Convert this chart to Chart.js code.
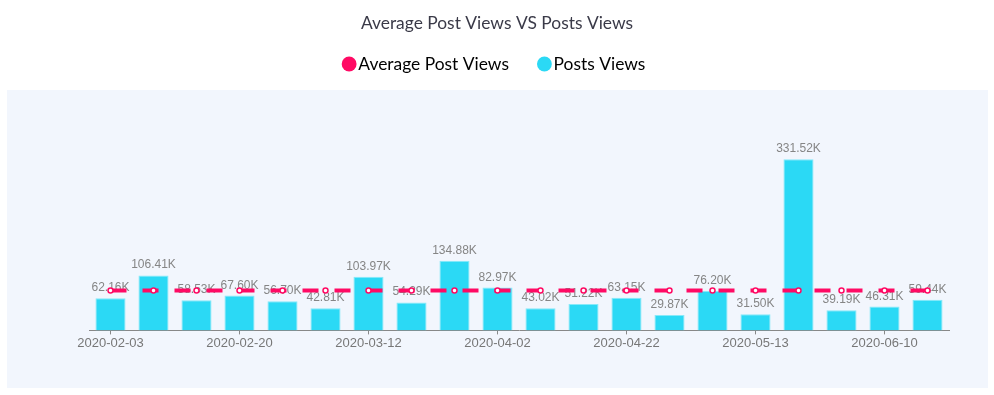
<!DOCTYPE html>
<html>
<head>
<meta charset="utf-8">
<script src="https://cdn.jsdelivr.net/npm/chart.js@4/dist/chart.umd.min.js"></script>
<style>
  html, body { margin: 0; padding: 0; background: #fff; }
  #wrap { width: 994px; height: 395px; position: relative; }
</style>
</head>
<body>
<div id="wrap"><canvas id="chart"></canvas></div>
<script>
const dates = [
  '2020-02-03', '2020-02-10', '2020-02-13', '2020-02-20', '2020-02-27',
  '2020-03-05', '2020-03-12', '2020-03-19', '2020-03-26', '2020-04-02',
  '2020-04-09', '2020-04-15', '2020-04-22', '2020-04-29', '2020-05-06',
  '2020-05-13', '2020-05-22', '2020-06-01', '2020-06-10', '2020-06-17'
];
const postViews = [
  62160, 106410, 58530, 67600, 56700, 42810, 103970, 54290, 134880, 82970,
  43020, 51220, 63150, 29870, 76200, 31500, 331520, 39190, 46310, 59440
];
const averageViews = [
  77087, 77087, 77087, 77087, 77087, 77087, 77087, 77087, 77087, 77087,
  77087, 77087, 77087, 77087, 77087, 77087, 77087, 77087, 77087, 77087
];
const seriesNames = ['Average Post Views', 'Posts Views'];

const pink = '#ff0a64';
const cyan = '#2bd9f5';

const panelBackground = {
  id: 'panelBackground',
  beforeDraw(chart) {
    const { ctx, width, height } = chart;
    ctx.save();
    ctx.fillStyle = '#f2f6fd';
    ctx.fillRect(7, 90, width - 13, height - 97);
    ctx.restore();
  }
};

const barLabels = {
  id: 'barLabels',
  afterDatasetDraw(chart, args) {
    if (args.index !== 1) {
      return;
    }
    const { ctx } = chart;
    ctx.save();
    ctx.font = '12px "Liberation Sans", Arial, sans-serif';
    ctx.fillStyle = '#858585';
    ctx.textAlign = 'center';
    ctx.textBaseline = 'alphabetic';
    args.meta.data.forEach((bar, i) => {
      ctx.fillText((postViews[i] / 1000).toFixed(2) + 'K', bar.x, bar.y - 7);
    });
    ctx.restore();
  }
};

new Chart(document.getElementById('chart'), {
  data: {
    labels: dates,
    datasets: [
      {
        type: 'line',
        label: seriesNames[0],
        data: averageViews,
        order: 0,
        borderColor: pink,
        backgroundColor: pink,
        borderWidth: 4,
        borderDash: [16, 16],
        pointRadius: 2.5,
        pointBorderWidth: 1.5,
        pointBackgroundColor: '#fff',
        pointBorderColor: pink,
        tension: 0
      },
      {
        type: 'bar',
        label: seriesNames[1],
        data: postViews,
        order: 1,
        backgroundColor: cyan,
        borderColor: '#86e9f9',
        borderWidth: 1,
        borderSkipped: 'bottom',
        categoryPercentage: 1,
        barPercentage: 0.7
      }
    ]
  },
  options: {
    responsive: true,
    maintainAspectRatio: false,
    animation: false,
    layout: { padding: { left: 0, right: 0, top: 0, bottom: 43 } },
    plugins: {
      title: {
        display: true,
        text: 'Average Post Views VS Posts Views',
        color: '#3a3a48',
        font: { family: 'Lato', size: 17.4, weight: 'normal' },
        padding: { top: 13, bottom: -13.6 }
      },
      legend: {
        labels: {
          usePointStyle: true,
          boxWidth: 1,
          boxHeight: 10.5,
          padding: 35,
          color: '#3a3a48',
          font: { family: 'Lato', size: 17.4 },
          generateLabels: (chart) => chart.data.datasets.map((ds, i) => ({
            text: ds.label,
            fillStyle: i === 0 ? pink : cyan,
            strokeStyle: i === 0 ? pink : cyan,
            lineWidth: 0,
            pointStyle: 'circle',
            hidden: !chart.isDatasetVisible(i),
            datasetIndex: i
          }))
        }
      },
      tooltip: { enabled: false }
    },
    scales: {
      x: {
        grid: {
          display: true,
          drawOnChartArea: false,
          offset: false,
          tickLength: 4,
          color: '#888'
        },
        border: { color: '#888', width: 1 },
        ticks: {
          autoSkip: false,
          maxRotation: 0,
          padding: 1,
          color: '#777',
          font: { family: 'Liberation Sans', size: 13 },
          callback: (value, i) => (i % 3 === 0 ? dates[i] : null)
        }
      },
      y: {
        position: 'left',
        min: 0,
        max: 480000,
        grid: { display: false },
        border: { display: false },
        ticks: { display: false },
        afterFit: (scale) => { scale.width = 89; }
      },
      yRight: {
        position: 'right',
        min: 0,
        max: 480000,
        grid: { display: false },
        border: { display: false },
        ticks: { display: false },
        afterFit: (scale) => { scale.width = 45; }
      }
    }
  },
  plugins: [panelBackground, barLabels]
});
</script>
</body>
</html>
